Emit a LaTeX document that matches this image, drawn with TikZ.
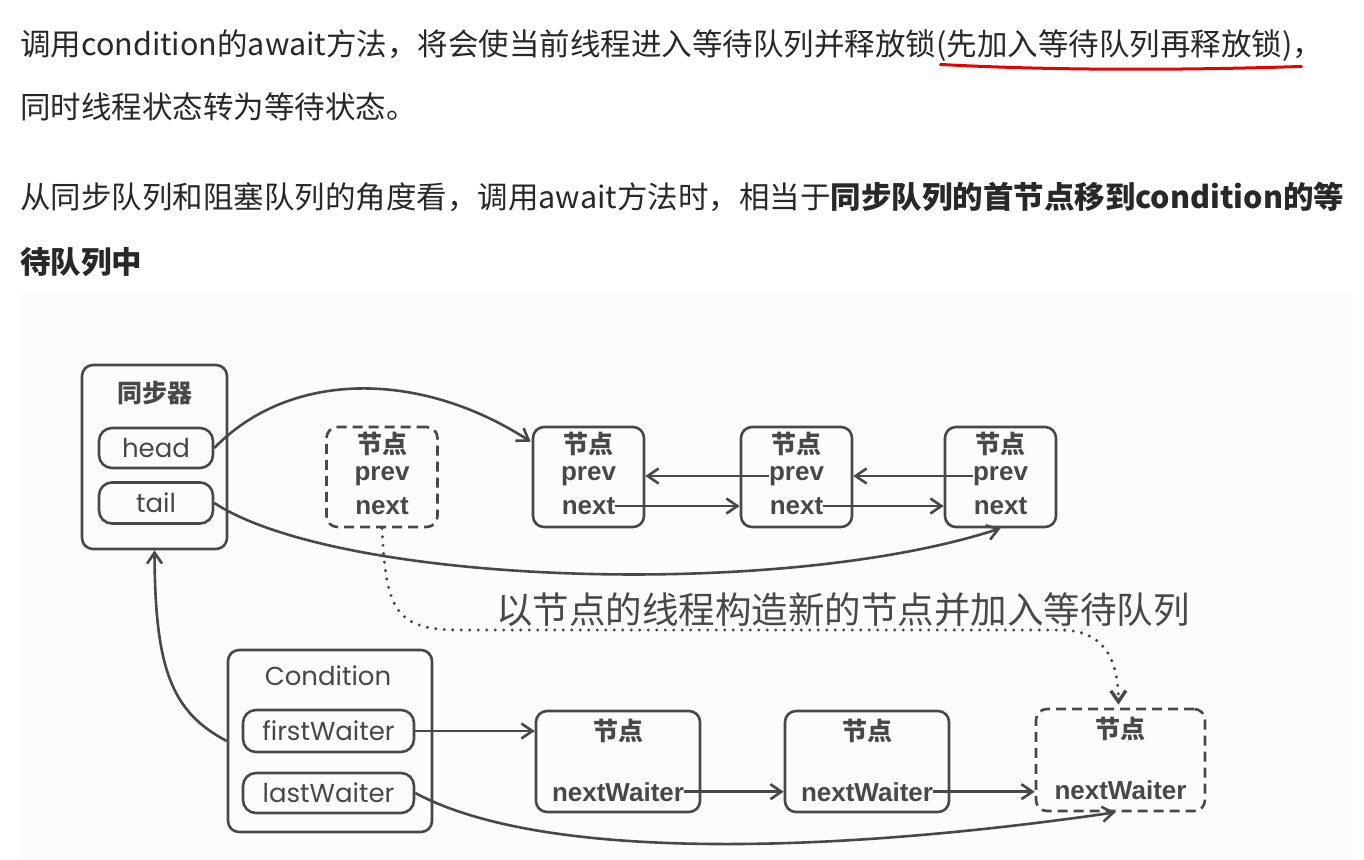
\documentclass[tikz,border=0pt]{standalone}
\usepackage{fontspec}
\setmainfont{Noto Sans CJK SC}
\newfontfamily\gothic{Poppins}
\newfontfamily\arialfont{Liberation Sans}
\usetikzlibrary{positioning,arrows.meta,calc}
\definecolor{ink}{RGB}{72,72,72}
\definecolor{txt}{RGB}{40,40,40}
\definecolor{paper}{RGB}{252,252,252}
\definecolor{redline}{RGB}{235,0,0}
\newcommand{\fs}[1]{\fontsize{#1pt}{#1pt}\selectfont}
\tikzset{
  box/.style={draw=ink, line width=2.6pt, rounded corners=11pt, inner sep=0pt},
  qnode/.style={box, minimum width=111pt, minimum height=100pt},
  wnode/.style={box, minimum width=164pt, minimum height=101pt},
  ghost/.style={dash pattern=on 10pt off 6pt},
  pill/.style={box, rounded corners=13pt, text=ink, font=\gothic\fs{26}},
  nodetitle/.style={text=ink, inner sep=0pt, font=\bfseries\fs{25}},
  field/.style={text=ink, inner sep=0pt, font=\arialfont\bfseries\fs{26}},
  link/.style={draw=ink, line width=2.6pt, -{Straight Barb[length=11pt,width=15pt]}},
  para/.style={anchor=west, inner sep=0pt, text=txt, font=\fs{30.5}},
}

\begin{document}
\begin{tikzpicture}[x=1pt,y=-1pt]
  \useasboundingbox (0,0) rectangle (1364,859);
  % text above the figure
  \node[para] (l1) at (20,44) {调用condition的await方法，将会使当前线程进入等待队列并释放锁};
  \node[para, anchor=base west] (l1u) at (l1.base east) {(先加入等待队列再释放锁)，};
  \node[para] (l2) at (20,107) {同时线程状态转为等待状态。};
  \node[para] (l3) at (20,197) {从同步队列和阻塞队列的角度看，调用await方法时，相当于\textbf{同步队列的首节点移到condition的等}};
  \node[para] (l4) at (20,262) {\textbf{待队列中}};
  \draw[redline, line width=3pt, line cap=round] ($(l1u.south west)+(4,3)$) .. controls ($(l1u.south)+(-80,9)$) and ($(l1u.south)+(50,9)$) .. ($(l1u.south east)+(-22,5)$);

  \fill[paper] (20,293) rectangle (1353,859);
  % synchronizer and its queue
  \node[box, minimum width=145pt, minimum height=184pt] (sync) at (154.5,457) {};
  \node[nodetitle] (sync-t) at (155,393) {同步器};
  \node[pill, minimum width=114pt, minimum height=40pt] (head) at (156,448) {head};
  \node[pill, minimum width=114pt, minimum height=41pt] (tail) at (156,503) {tail};
  \node[qnode, ghost] (old) at (382,477) {};
  \node[qnode] (qa) at (588.5,477) {};
  \node[qnode] (qb) at (796.5,477) {};
  \node[qnode] (qc) at (1000.5,477) {};
  \foreach \n in {old,qa,qb,qc} {
    \node[nodetitle] (\n-t) at ($(\n)+(0,-33)$) {节点};
    \node[field] (\n-p) at ($(\n)+(0,-1)$) {prev};
    \node[field] (\n-n) at ($(\n)+(0,29)$) {next};
  }
  \draw[link] (qb-p.west) -- (qb-p.west -| qa.east);
  \draw[link] (qc-p.west) -- (qc-p.west -| qb.east);
  \draw[link] (qa-n.east) -- (qa-n.east -| qb.west);
  \draw[link] (qb-n.east) -- (qb-n.east -| qc.west);
  \draw[link] (head.east) .. controls (290,370) and (420,370) .. ($(qa.north west)+(-1,16)$);
  \draw[link] (tail.east) .. controls (340,585) and (780,600) .. (qc.south);

  % condition and its wait queue
  \node[box, minimum width=204pt, minimum height=182pt] (cond) at (330,741) {};
  \node[text=ink, inner sep=0pt, font=\gothic\fs{26}] (cond-t) at (328,676) {Condition};
  \node[pill, minimum width=171pt, minimum height=42pt] (first) at (328.5,731) {firstWaiter};
  \node[pill, minimum width=171pt, minimum height=40pt] (last) at (328.5,793) {lastWaiter};
  \node[wnode] (wa) at (618,761.5) {};
  \node[wnode] (wb) at (867,761.5) {};
  \node[wnode, ghost, minimum width=169pt, minimum height=102pt] (wnew) at (1120.5,760) {};
  \foreach \n in {wa,wb,wnew} {
    \node[nodetitle] (\n-t) at ($(\n.north)+(0,21)$) {节点};
    \node[field] (\n-n) at ($(\n.north)+(0,82)$) {nextWaiter};
  }
  \draw[link] (first.east) -- (first.east -| wa.west);
  \draw[link] (wa-n.east) -- (wa-n.east -| wb.west);
  \draw[link] (wb-n.east) -- (wb-n.east -| wnew.west);
  \draw[link] (last.east) .. controls (540,860) and (820,855) .. ($(wnew.south)+(-5,0)$);
  \draw[link] (cond.west) .. controls (172,712) and (155,670) .. (sync.south);

  % node moved to the wait queue
  \node[text=ink, inner sep=0pt, font=\fs{36.5}] (note) at (843,610) {以节点的线程构造新的节点并加入等待队列};
  \draw[link, line width=3.4pt, dash pattern=on 0pt off 8.5pt, line cap=round] (old.south) .. controls (386,610) and (395,630) .. (460,630) -- (1060,630) .. controls (1105,630) and (1118,660) .. ($(wnew.north)+(-2,-3)$);
\end{tikzpicture}
\end{document}
